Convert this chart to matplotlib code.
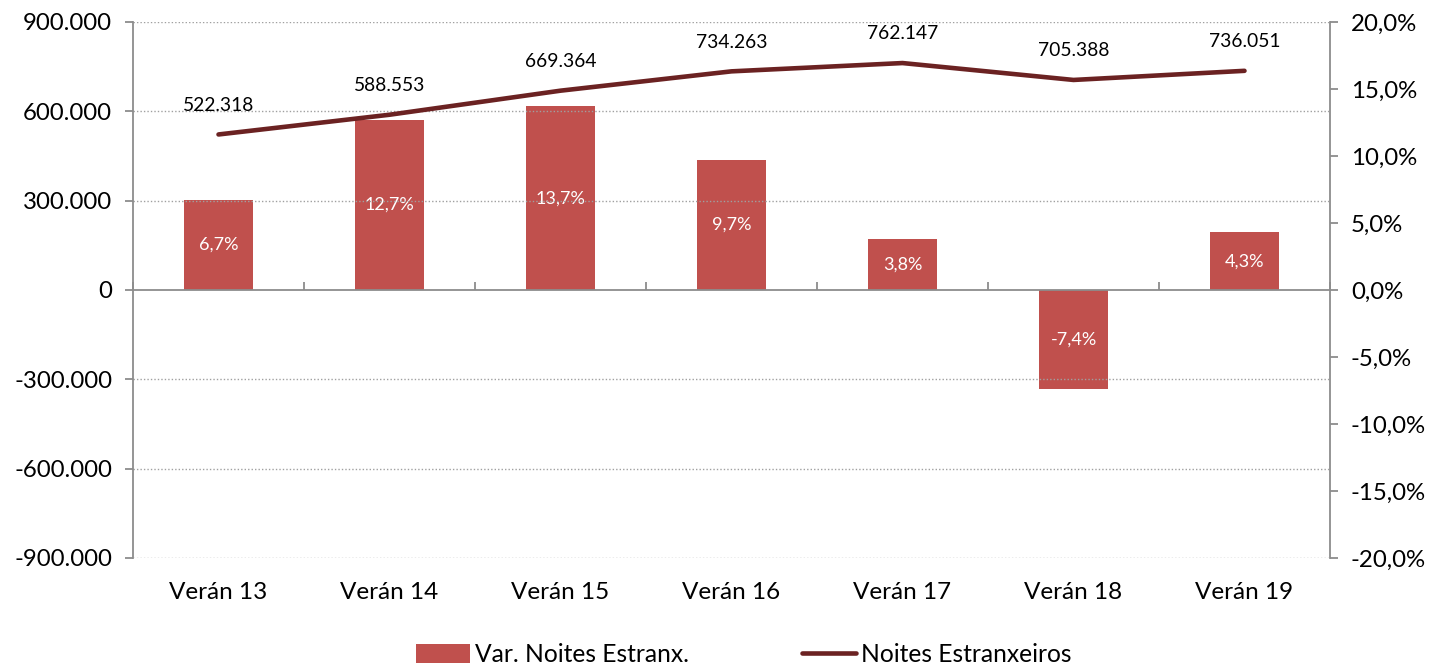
import matplotlib
matplotlib.use("Agg")
import matplotlib.pyplot as plt
import numpy as np
from matplotlib.ticker import FuncFormatter

plt.rcParams['font.family'] = ['Lato', 'DejaVu Sans']

categories = ["Verán 13", "Verán 14", "Verán 15", "Verán 16", "Verán 17", "Verán 18", "Verán 19"]
noites = [522318, 588553, 669364, 734263, 762147, 705388, 736051]
variacion = [6.7, 12.7, 13.7, 9.7, 3.8, -7.4, 4.3]
left_ticks = [-900000, -600000, -300000, 0, 300000, 600000, 900000]
right_ticks = [-20, -15, -10, -5, 0, 5, 10, 15, 20]

bar_color = "#C0504D"
line_color = "#6B2222"
spine_color = "#8C8C8C"

fig = plt.figure(figsize=(14.35, 6.69), dpi=100)
ax = fig.add_axes([133/1435, 1-558/669, (1330-133)/1435, (558-22)/669])
ax2 = ax.twinx()

x = np.arange(len(categories))

# bars on right (percent) axis
bars = ax2.bar(x, variacion, width=0.4, color=bar_color, label="Var. Noites Estranx.", zorder=2)
ax2.bar_label(bars, labels=[f"{v:.1f}%".replace(".", ",") for v in variacion],
              label_type='center', color='white', fontsize=13)
ax2.set_ylim(-20, 20)
ax2.set_yticks(right_ticks)
ax2.yaxis.set_major_formatter(FuncFormatter(lambda v, p: f"{v:.1f}%".replace(".", ",")))

# line on left axis
line, = ax.plot(x, noites, color=line_color, lw=3.3, solid_capstyle='round',
                label="Noites Estranxeiros", zorder=3)
for xi, v in zip(x, noites):
    ax.annotate(f"{v:,}".replace(",", "."), (xi, v), xytext=(0, 21),
                textcoords='offset points', ha='center', va='center', fontsize=13.9)
ax.set_ylim(-900000, 900000)
ax.set_yticks(left_ticks)
ax.yaxis.set_major_formatter(FuncFormatter(lambda v, p: f"{int(v):,}".replace(",", ".")))
ax.set_xlim(-0.5, len(categories) - 0.5)

ax.set_zorder(ax2.get_zorder() + 1)
ax.patch.set_visible(False)

# grid
for t in left_ticks:
    if t != 0:
        ax.axhline(t, color="#A0A0A0", lw=1.0, ls=(0, (1, 1.5)), zorder=0)

# spines
for a in (ax, ax2):
    for s in ('top', 'bottom'):
        a.spines[s].set_visible(False)
ax.spines['right'].set_visible(False)
ax2.spines['left'].set_visible(False)
ax.spines['left'].set_color(spine_color)
ax2.spines['right'].set_color(spine_color)
ax.spines['left'].set_linewidth(1.3)
ax2.spines['right'].set_linewidth(1.3)

ax.tick_params(axis='y', length=6, width=1.3, color=spine_color, labelsize=17.3, pad=9)
ax2.tick_params(axis='y', length=6, width=1.3, color=spine_color, labelsize=17.3, pad=9)

# category labels
ax.set_xticks(x)
ax.set_xticklabels(categories)
ax.tick_params(axis='x', length=0, labelsize=17.5, pad=17.5)

# zero axis with boundary ticks
sec = ax.secondary_xaxis(0.5)
sec.set_xticks(np.arange(len(categories) + 1) - 0.5)
sec.set_xticklabels([])
sec.tick_params(axis='x', length=6, width=1.3, color=spine_color)
for sp in sec.spines.values():
    sp.set_color(spine_color)
    sp.set_linewidth(1.3)

# legend
leg = fig.legend(handles=[bars, line], labels=["Var. Noites Estranx.", "Noites Estranxeiros"],
                 loc='center', bbox_to_anchor=(0.518, 0.022), ncol=2, frameon=False,
                 fontsize=17.7, handlelength=2.2, handletextpad=0.2, columnspacing=4.6,
                 handleheight=0.8, borderpad=0.1)

fig.savefig("out.png", dpi=100)
